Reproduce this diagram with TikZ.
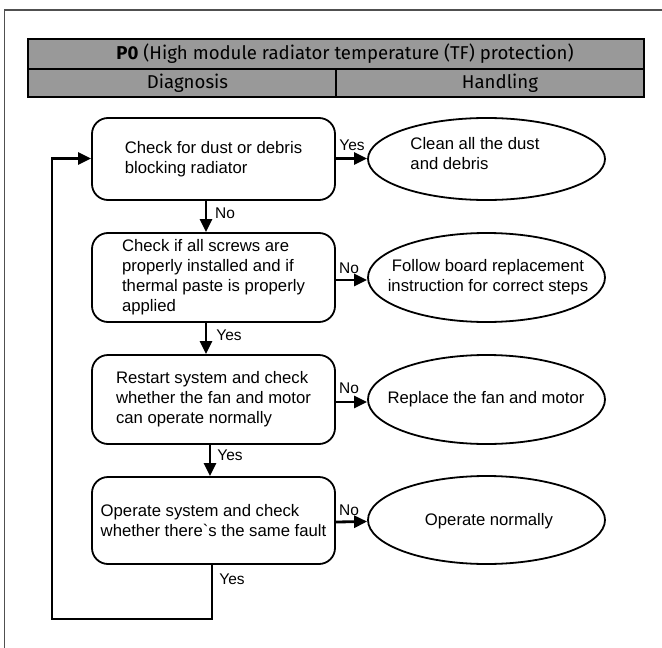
\documentclass[tikz,border=0pt]{standalone}
\usepackage{fontspec}
\setmainfont{Liberation Sans}
\newfontfamily\headfont{Fira Sans}
\usetikzlibrary{shapes.geometric,arrows.meta}
\definecolor{hdrgray}{RGB}{153,153,153}
\definecolor{framegray}{RGB}{80,80,80}
\begin{document}
\begin{tikzpicture}[x=1pt,y=-1pt,
  boxst/.style={draw, line width=1.8pt, rounded corners=16pt, minimum width=243pt,
    align=left, font=\fontsize{16.7}{20}\selectfont, inner sep=0pt},
  ellst/.style={draw, ellipse, line width=1.8pt, minimum width=237pt, inner sep=0pt},
  etext/.style={align=center, font=\fontsize{16.7}{20}\selectfont, inner sep=0pt},
  conn/.style={line width=2.8pt, -{Triangle[length=13pt,width=12pt]}},
  lbl/.style={font=\fontsize{15.5}{18}\selectfont, inner sep=0pt},
  hdr/.style={font=\headfont\fontsize{18.6}{22}\selectfont, inner sep=0pt},
  tbl/.style={draw, line width=2pt, fill=hdrgray}
]
\useasboundingbox (0,0) rectangle (662,648);
% outer frame (top and left edges)
\draw[framegray, line width=1.2pt] (4.5,648) -- (4.5,10) -- (662,10);

% header table
\draw[tbl] (28,39) rectangle (644,97);
\draw[line width=2pt] (28,69) -- (644,69);
\draw[line width=2pt] (336,69) -- (336,97);
\node[hdr] (title) at (345,54) {\textbf{P0} (High module radiator temperature (TF) protection)};
\node[hdr] (diag) at (187.5,83) {Diagnosis};
\node[hdr] (hand) at (500,83) {Handling};

% diagnosis boxes
\node[boxst, minimum height=82pt] (b1) at (213.5,159) {Check for dust or debris\\blocking radiator};
\node[boxst, minimum height=89pt] (b2) at (213.5,277.5) {Check if all screws are\\properly installed and if\\thermal paste is properly\\applied};
\node[boxst, minimum height=89pt] (b3) at (213.5,399.5) {Restart system and check\\whether the fan and motor\\can operate normally};
\node[boxst, minimum height=87pt] (b4) at (213.5,520.5) {Operate system and check\\whether there\textasciigrave s the same fault};

% handling ellipses
\node[ellst, minimum height=82pt] (e1) at (486.5,159) {};
\node[etext, align=left] (e1t) at (475,154) {Clean all the dust\\and debris};
\node[ellst, minimum height=89pt] (e2) at (486.5,277.5) {};
\node[etext] (e2t) at (488,277) {Follow board replacement\\instruction for correct steps};
\node[ellst, minimum height=89pt] (e3) at (486.5,399.5) {};
\node[etext] (e3t) at (486,399) {Replace the fan and motor};
\node[ellst, minimum height=88pt] (e4) at (486.5,520) {};
\node[etext] (e4t) at (489,521) {Operate normally};

% connectors
\draw[conn] ([yshift=0.5pt]b1.east) -- ([yshift=0.5pt]e1.west);
\draw[conn] ([yshift=-2.5pt]b2.east) -- ([yshift=-2.5pt]e2.west);
\draw[conn] ([yshift=-2.5pt]b3.east) -- ([yshift=-2.5pt]e3.west);
\draw[conn] ([yshift=-1.5pt]b4.east) -- ([yshift=-1.5pt]e4.west);
\draw[conn] ([xshift=-7.5pt]b1.south) -- ([xshift=-7.5pt]b2.north);
\draw[conn] ([xshift=-7.5pt]b2.south) -- ([xshift=-7.5pt]b3.north);
\draw[conn] ([xshift=-3.5pt]b3.south) -- ([xshift=-3.5pt]b4.north);
\coordinate (lb) at (212,619);
\coordinate (lc) at (52,619);
\draw[conn, line join=miter] ([xshift=-1.5pt]b4.south) -- (lb) -- (lc) |- ([yshift=0.5pt]b1.west);

% labels
\node[lbl] (l1) at (352,145) {Yes};
\node[lbl] (l2) at (225,213) {No};
\node[lbl] (l3) at (349,268) {No};
\node[lbl] (l4) at (229,335) {Yes};
\node[lbl] (l5) at (349,388) {No};
\node[lbl] (l6) at (230,455) {Yes};
\node[lbl] (l7) at (349,510) {No};
\node[lbl] (l8) at (232,579) {Yes};
\end{tikzpicture}
\end{document}
